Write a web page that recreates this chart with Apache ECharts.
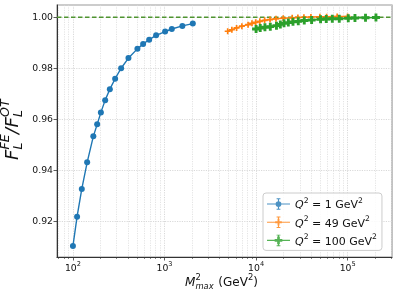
<!DOCTYPE html>
<html><head><meta charset="utf-8">
<script src="https://cdn.jsdelivr.net/npm/echarts@6/dist/echarts.min.js"></script>
<style>html,body{margin:0;padding:0;background:#fff}#c{width:396px;height:294px}</style>
</head><body><div id="c"></div>
<script>
// ---- data ----
const mQ1 = [100,111,125,143,167,184,202,225,253,289,336,404,506,584,680,810,1016,1202,1567,2037];
const rQ1 = [0.9103,0.9218,0.9327,0.9431,0.9533,0.9580,0.9627,0.9675,0.9718,0.9759,0.9800,0.9840,0.9876,0.9895,0.9912,0.9929,0.9944,0.9954,0.9966,0.9975];
const mQ49 = [4900,5440,6125,7000,8180,9020,9900,11000,12400,14200,16500,19800,24800,28600,33300,39700,49800,58900,76800,99800];
const rQ49 = [0.9945,0.9951,0.9958,0.9965,0.9971,0.9976,0.9980,0.9984,0.9988,0.9991,0.9994,0.9996,0.9998,0.9999,1.0000,1.0001,1.0002,1.0002,1.0003,1.0003];
const mQ100 = [10000,11100,12500,14300,16700,18400,20200,22500,25300,28900,33600,40400,50600,58400,68000,81000,101600,120200,156700,203700];
const rQ100 = [0.9954,0.9958,0.9961,0.9963,0.9967,0.9972,0.9976,0.9979,0.9982,0.9984,0.9987,0.9989,0.9992,0.9993,0.9994,0.9994,0.9996,0.9997,0.9998,0.9999];
const seriesNames = ['Q2=1','Q2=49','Q2=100'];
const legendLabels = ['1','49','100'];
const xRange = [67, 305000];
const refX = [67, 305000];
const refY = [1.0, 1.0];
const xMajor = [100,1000,10000,100000];
const xMinor = [70,80,90,200,300,400,500,600,700,800,900,2000,3000,4000,5000,6000,7000,8000,9000,20000,30000,40000,50000,60000,70000,80000,90000,200000,300000];
const yTicks = [0.92,0.94,0.96,0.98,1.00];

const colors = ['#1f77b4','#ff7f0e','#2ca02c'];
const refColor = '#4f9430';
const FONT = 'DejaVu Sans';
const plusThin = 'path://M3.6,0H6.4V3.6H10V6.4H6.4V10H3.6V6.4H0V3.6H3.6Z';
const plusFat = 'path://M3.2,0H6.8V3.2H10V6.8H6.8V10H3.2V6.8H0V3.2H3.2Z';
const baseIcon = 'M0,6.4H24V7.6H0ZM11.4,1H12.6V13H11.4ZM10,1H14V2H10ZM10,12H14V13H10Z';
const legendIcons = [
  'path://' + baseIcon + 'M15,7A3,3 0 1,1 9,7A3,3 0 1,1 15,7Z',
  'path://' + baseIcon + 'M11,3.5H13V6H15.5V8H13V10.5H11V8H8.5V6H11Z',
  'path://' + baseIcon + 'M10.6,3H13.4V5.6H16V8.4H13.4V11H10.6V8.4H8V5.6H10.6Z'
];

const chart = echarts.init(document.getElementById('c'), null, {renderer:'canvas'});
const gridColor = '#cfcfcf';
const mkData = (xs, ys) => xs.map((x,i)=>[x, ys[i]]);

function txt(text, x, y, size, italic) {
  return {type:'text', x:x, y:y, style:{text:text, fontFamily:FONT, fontSize:size, fontStyle: italic?'italic':'normal', fill:'#111', verticalAlign:'middle', align:'left'}};
}

const option = {
  animation:false,
  color: colors,
  grid:{left:57, right:4, top:5, bottom:37, show:true, borderColor:'#9a9a9a', borderWidth:1.2, containLabel:false},
  xAxis:[{
    type:'log', logBase:10, min:xRange[0], max:xRange[1],
    axisLine:{show:true, onZero:false, lineStyle:{color:'#333', width:1}},
    axisTick:{show:true, customValues:xMajor, length:3.5, lineStyle:{color:'#333', width:0.8}},
    axisLabel:{show:true, customValues:xMajor, margin:4, color:'#111', fontFamily:FONT,
      formatter: v => '{n|10}{s|' + Math.round(Math.log10(v)) + '}',
      rich:{n:{fontSize:9.3, fontFamily:FONT, color:'#111', verticalAlign:'bottom', lineHeight:12},
            s:{fontSize:6.6, fontFamily:FONT, color:'#111', verticalAlign:'top', lineHeight:8}}},
    splitLine:{show:true, lineStyle:{color:gridColor, width:0.8, type:[1.2,1.2]}}
  },{
    type:'log', logBase:10, min:xRange[0], max:xRange[1], position:'bottom', offset:0,
    axisLine:{show:false},
    axisTick:{show:true, customValues:xMinor, length:2, lineStyle:{color:'#333', width:0.6}},
    axisLabel:{show:false},
    splitLine:{show:true, lineStyle:{color:'#d8d8d8', width:0.7, type:[1.2,1.2]}}
  }],
  yAxis:{
    type:'value', min:0.906, max:1.0048,
    axisLine:{show:true, onZero:false, lineStyle:{color:'#333', width:1}},
    axisTick:{show:true, customValues:yTicks, length:3.5, lineStyle:{color:'#333', width:0.8}},
    axisLabel:{show:true, customValues:yTicks, margin:4, fontSize:9.3, fontFamily:FONT, color:'#111', formatter:v=>v.toFixed(2)},
    splitLine:{show:true, lineStyle:{color:gridColor, width:0.8, type:[1.2,1.2]}}
  },
  legend:{
    left:263, top:193, orient:'vertical', padding:[4,5,3,4], itemGap:4.2, itemWidth:23, itemHeight:14,
    backgroundColor:'rgba(255,255,255,0.85)', borderColor:'#cccccc', borderWidth:1, borderRadius:3,
    data: seriesNames.map((n,i)=>({name:n, icon:legendIcons[i], itemStyle:{color:colors[i], opacity:0.8}})),
    formatter: name => {
      const lab = legendLabels[seriesNames.indexOf(name)];
      return '{i|Q}{s|2}{n| = ' + lab + ' GeV}{s|2}';
    },
    textStyle:{fontFamily:FONT, fontSize:11, color:'#111',
      rich:{i:{fontFamily:FONT, fontSize:11, fontStyle:'italic', color:'#111', verticalAlign:'bottom', lineHeight:14},
            n:{fontFamily:FONT, fontSize:11, color:'#111', verticalAlign:'bottom', lineHeight:14},
            s:{fontFamily:FONT, fontSize:7.7, color:'#111', verticalAlign:'top', lineHeight:9}}}
  },
  series:[
    {name:'ref', type:'line', xAxisIndex:0, data:mkData(refX, refY), z:2, symbol:'none', silent:true,
     lineStyle:{color:refColor, type:[4.5,2.5], width:1.5}, itemStyle:{color:refColor}},
    {name:seriesNames[0], type:'line', xAxisIndex:0, data:mkData(mQ1,rQ1), symbol:'circle', symbolSize:6,
     lineStyle:{width:1.4, color:colors[0]}, itemStyle:{color:colors[0]}, z:3},
    {name:seriesNames[1], type:'line', xAxisIndex:0, data:mkData(mQ49,rQ49), symbol:plusThin, symbolSize:6,
     lineStyle:{width:1.4, color:colors[1]}, itemStyle:{color:colors[1]}, z:4},
    {name:seriesNames[2], type:'line', xAxisIndex:0, data:mkData(mQ100,rQ100), symbol:plusFat, symbolSize:8,
     lineStyle:{width:1.4, color:colors[2]}, itemStyle:{color:colors[2]}, z:5}
  ],
  graphic:[
    {type:'group', x:13, y:160, rotation:Math.PI/2, children:[
      txt('F',0,0,18,true), txt('FE',10.6,-7.5,12.6,true), txt('L',10.6,6,12.6,true),
      txt('/',26,0,18,true),
      txt('F',32.5,0,18,true), txt('OT',43,-7.5,12.6,true), txt('L',43,6,12.6,true)
    ]},
    {type:'group', x:185, y:283, children:[
      txt('M',0,0,12,true), txt('2',10.6,-5,8.4,false), txt('max',10.4,3.5,8.4,true),
      txt('(GeV',33.3,0,12,false), txt('2',63,-5,8.4,false), txt(')',68.3,0,12,false)
    ]}
  ]
};
chart.setOption(option);
</script></body></html>
